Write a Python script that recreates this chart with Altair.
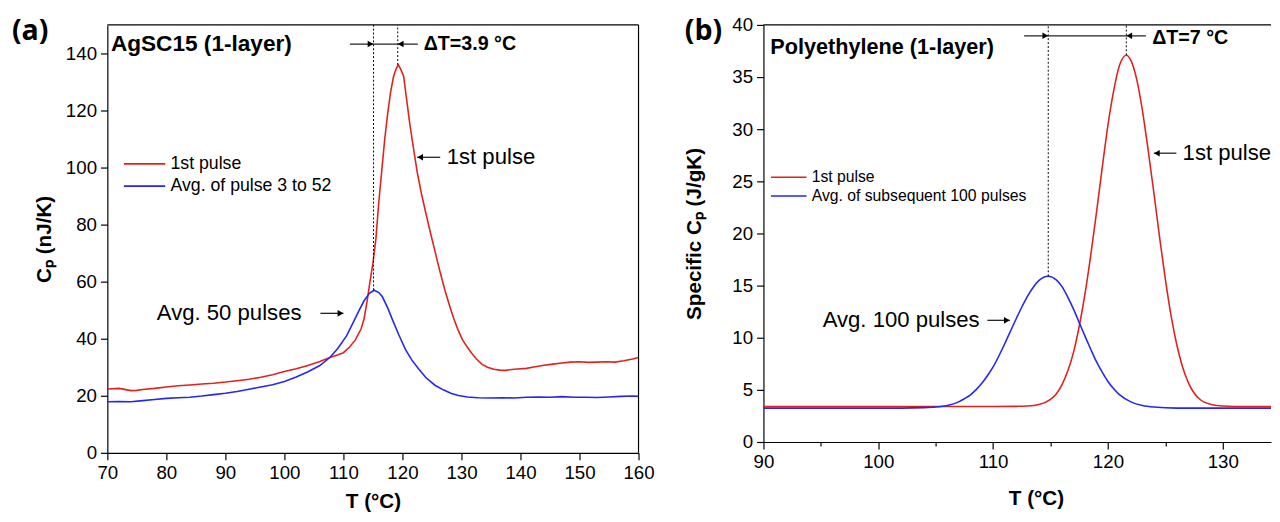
import altair as alt
import pandas as pd

# ---------------- data: panel (a) AgSC15 ----------------
a_red_T = [70, 72, 74, 75, 76, 78, 80, 82, 84, 86, 88, 90, 92, 94, 96, 98, 100, 102, 104, 106,
           107.7, 109, 110, 111, 112, 112.5, 113, 113.5, 114, 114.5, 115, 115.5, 116, 116.5, 117, 117.5,
           118, 118.5, 119, 119.3, 119.7, 120.2, 120.7, 121.2, 121.7, 122.5, 123.2, 123.9, 124.7, 125.5,
           126.3, 127.2, 128, 128.7, 129.4, 130.2, 131, 131.7, 132.5, 133.5, 134.4, 135.5, 136.5, 137.5,
           138.5, 139.5, 141, 142.5, 144, 145.5, 147, 148.5, 150, 151.5, 153, 154.5, 156, 157.5, 159, 160]
a_red_Cp = [22.4, 22.6, 21.8, 21.9, 22.2, 22.6, 23.1, 23.5, 23.8, 24.1, 24.4, 24.8, 25.3, 25.8, 26.5, 27.4,
            28.5, 29.5, 30.6, 32.0, 33.4, 34.3, 35.1, 37.0, 39.5, 41.5, 43.5, 47, 53, 60, 66.5, 75, 88, 99,
            110, 119, 126.5, 132, 135, 136, 134.5, 132, 124, 116, 109, 98.4, 91, 84.6, 77.5, 70.8, 64, 57,
            51.5, 47, 43.2, 39.5, 37, 35, 33, 31, 30, 29.3, 29, 28.9, 29.2, 29.4, 29.6, 30.2, 30.7, 31.1,
            31.5, 31.8, 31.9, 31.7, 31.8, 31.9, 31.8, 32.3, 32.9, 33.4]
a_blue_T = [70, 72, 74, 76, 78, 80, 82, 84, 86, 88, 90, 92, 94, 96, 98, 100, 102, 104, 106,
            107.7, 109, 110.5, 111.5, 112.7, 113.5, 114.4, 115.2, 116, 116.6, 117.5, 118.3, 119.4, 120.5,
            121.6, 122.75, 124, 125.5, 127, 128.3, 129.5, 131, 132.8, 135, 137, 139, 141, 143, 145, 147,
            149, 151, 153, 155, 157, 159, 160]
a_blue_Cp = [17.9, 18.0, 17.9, 18.3, 18.7, 19.1, 19.3, 19.5, 19.9, 20.4, 20.9, 21.5, 22.3, 23.1, 23.9, 25.0,
             26.6, 28.4, 30.6, 33.4, 36.5, 40.9, 45.0, 50.1, 53.3, 55.9, 57, 56.2, 54.7, 50.8, 46.7, 41.3,
             36.3, 32.5, 29.4, 26.3, 23.7, 22.0, 20.8, 20.1, 19.6, 19.3, 19.2, 19.3, 19.2, 19.5, 19.6, 19.5,
             19.7, 19.5, 19.5, 19.4, 19.6, 19.8, 19.9, 19.8]
a_series = ["1st pulse", "Avg. of pulse 3 to 52"]
a_peaks_T = [115.1, 119.2]
a_peaks_Cp = [57, 136]

# ---------------- data: panel (b) Polyethylene ----------------
b_red_T = [90, 100, 110, 112, 113, 114, 115, 115.5, 116, 116.5, 117, 117.5, 118, 118.5, 119, 119.5, 120,
           120.5, 121, 121.6, 122, 122.5, 123, 123.5, 124, 124.5, 125, 125.5, 126, 126.5, 127, 127.5, 128,
           129, 130, 132, 134.3]
b_red_Cp = [3.4, 3.4, 3.4, 3.42, 3.45, 3.6, 4.1, 4.6, 5.5, 6.8, 8.6, 11.1, 14.2, 17.9, 22.0, 26.3, 30.4,
            33.7, 36.1, 37.1, 36.6, 34.8, 31.8, 28.0, 23.9, 19.6, 15.6, 12.1, 9.3, 7.2, 5.7, 4.7, 4.1,
            3.6, 3.45, 3.4, 3.4]
b_blue_T = [90, 100, 104, 105, 106, 107, 107.5, 108, 108.5, 109, 109.5, 110, 110.5, 111, 111.5, 112, 112.5,
            113, 113.5, 114, 114.8, 115.5, 116, 116.5, 117, 117.5, 118, 118.5, 119, 119.5, 120, 120.5, 121,
            122, 123, 124, 126, 130, 134.3]
b_blue_Cp = [3.25, 3.25, 3.3, 3.35, 3.5, 3.85, 4.15, 4.5, 5.0, 5.6, 6.35, 7.2, 8.25, 9.4, 10.6, 11.8, 12.95,
             14.0, 14.85, 15.5, 15.9, 15.55, 14.9, 13.9, 12.75, 11.45, 10.15, 8.9, 7.7, 6.7, 5.8, 5.1, 4.55,
             3.85, 3.5, 3.35, 3.25, 3.25, 3.25]
b_series = ["1st pulse", "Avg. of subsequent 100 pulses"]
b_peaks_T = [114.8, 121.6]
b_peaks_Cp = [15.9, 37.1]

RED = "#E0221E"
BLUE = "#2626F2"
FONT = "Liberation Sans"
ONE = pd.DataFrame({"k": [0]})


def lines_df(T1, C1, T2, C2, names):
    return pd.DataFrame({"T": T1 + T2, "Cp": C1 + C2,
                         "series": [names[0]] * len(T1) + [names[1]] * len(T2),
                         "col": [RED] * len(T1) + [BLUE] * len(T2)})


def tick_axis(values, major, title, **kw):
    return alt.Axis(values=values,
                    labelExpr=f"datum.value % {major} === 0 ? datum.label : ''",
                    tickSize={"condition": {"test": f"datum.value % {major} === 0", "value": 7}, "value": 4},
                    labelOverlap=False, labelFlush=False, title=title, **kw)


def build_panel(df, names, xs, ys, xaxis, yaxis, interp, peaksT, peaksCp, ytop,
                dT_seg, extra_segs, heads_r, heads_l, texts, legend, label):
    X = alt.X("T:Q", scale=xs)
    Y = alt.Y("Cp:Q", scale=ys)
    lines = alt.Chart(df).mark_line(strokeWidth=1.6, clip=True, interpolate=interp).encode(
        x=alt.X("T:Q", scale=xs, axis=xaxis),
        y=alt.Y("Cp:Q", scale=ys, axis=yaxis),
        color=alt.Color("col:N", scale=None),
        detail="series:N",
    )
    dots = alt.Chart(pd.DataFrame({"T": peaksT, "Cp": peaksCp, "Ct": [ytop, ytop]})).mark_rule(
        color="black", strokeWidth=1, strokeDash=[2, 2]).encode(x=X, y=Y, y2="Ct:Q")
    segs = pd.DataFrame([dT_seg] + extra_segs, columns=["T", "T2", "Cp"])
    seg_layer = alt.Chart(segs).mark_rule(color="#222222", strokeWidth=1.3).encode(x=X, x2="T2:Q", y=Y)
    hr = alt.Chart(pd.DataFrame(heads_r, columns=["T", "Cp"])).mark_point(
        shape="triangle-right", filled=True, size=45, color="black", opacity=1, xOffset=-3).encode(x=X, y=Y)
    hl = alt.Chart(pd.DataFrame(heads_l, columns=["T", "Cp"])).mark_point(
        shape="triangle-left", filled=True, size=45, color="black", opacity=1, xOffset=3).encode(x=X, y=Y)
    layers = [lines, dots, seg_layer, hr, hl]
    for (t, T, C, size, weight, align) in texts:
        layers.append(alt.Chart(pd.DataFrame({"T": [T], "Cp": [C], "txt": [t]})).mark_text(
            font=FONT, fontSize=size, fontWeight=weight, align=align, baseline="middle", color="black"
        ).encode(x=X, y=Y, text="txt:N"))
    (lx1, lx2, ltx, lrows, lsize) = legend
    leg = pd.DataFrame({"T": [lx1, lx1], "T2": [lx2, lx2], "Cp": lrows, "series": names,
                        "Tt": [ltx, ltx], "col": [RED, BLUE]})
    layers.append(alt.Chart(leg).mark_rule(strokeWidth=1.6).encode(
        x=X, x2="T2:Q", y=Y, color=alt.Color("col:N", scale=None)))
    layers.append(alt.Chart(leg).mark_text(font=FONT, fontSize=lsize, align="left", baseline="middle",
                                           color="black").encode(x=alt.X("Tt:Q", scale=xs), y=Y,
                                                                 text="series:N"))
    (lt, lx, ly) = label
    layers.append(alt.Chart(ONE).mark_text(text=lt, font="Open Sans", fontWeight="bold", fontSize=29,
                                           align="left", baseline="middle", color="black").encode(
        x=alt.value(lx), y=alt.value(ly)))
    return layers


# ---------- panel (a) ----------
WA, HA = 540, 435
xsa = alt.Scale(domain=[70, 160], nice=False, zero=False)
ysa = alt.Scale(domain=[0, 150], nice=False)
xaxis_a = tick_axis(list(range(70, 161, 5)), 10, "T (°C)", titleX=WA / 2, titleY=50,
                    titleBaseline="middle", titleAlign="center")
yaxis_a = tick_axis(list(range(0, 141, 10)), 20, "Cₚ (nJ/K)", titleX=-64, titleY=HA / 2,
                    titleAngle=270, titleBaseline="middle", titleAlign="center")
layers_a = build_panel(
    lines_df(a_red_T, a_red_Cp, a_blue_T, a_blue_Cp, a_series), a_series, xsa, ysa,
    xaxis_a, yaxis_a, "linear", a_peaks_T, a_peaks_Cp, 150,
    (111.1, 122.6, 143.3),
    [(122.5, 126.4, 103.6), (106.1, 110.0, 48.9)],
    [(115.1, 143.3), (110.0, 48.9)],
    [(119.2, 143.3), (122.5, 103.6)],
    [("AgSC15 (1-layer)", 70.6, 143.3, 23, "bold", "left"),
     ("ΔT=3.9 °C", 123.6, 143.3, 20, "bold", "left"),
     ("1st pulse", 127.5, 103.6, 22.5, "normal", "left"),
     ("Avg. 50 pulses", 102.9, 48.9, 22.5, "normal", "right")],
    (72.8, 79.8, 80.7, [101.3, 93.5], 18),
    ("(a)", -97, 6),
)
frame_a = [
    alt.Chart(ONE).mark_rule(color="black", strokeWidth=1.2).encode(y=alt.value(0)),
    alt.Chart(ONE).mark_rule(color="black", strokeWidth=1.2).encode(x=alt.value(WA)),
]
panel_a = alt.layer(*layers_a, *frame_a).properties(width=WA, height=HA)

# ---------- panel (b) ----------
WB, HB = 516, 424
xsb = alt.Scale(domain=[90, 134.2], nice=False, zero=False)
ysb = alt.Scale(domain=[0, 40], nice=False)
xaxis_b = tick_axis(list(range(90, 134, 5)), 10, "T (°C)", titleX=277, titleY=58,
                    titleBaseline="middle", titleAlign="center")
yaxis_b = tick_axis([v / 2 for v in range(0, 81, 5)], 5, "Specific Cₚ (J/gK)", titleX=-70, titleY=HB / 2,
                    titleAngle=270, titleBaseline="middle", titleAlign="center")
layers_b = build_panel(
    lines_df(b_red_T, b_red_Cp, b_blue_T, b_blue_Cp, b_series), b_series, xsb, ysb,
    xaxis_b, yaxis_b, "monotone", b_peaks_T, b_peaks_Cp, 40,
    (112.7, 123.3, 38.96),
    [(124.0, 125.96, 27.7), (109.5, 111.45, 11.67)],
    [(114.8, 38.96), (111.45, 11.67)],
    [(121.6, 38.96), (124.0, 27.7)],
    [("Polyethylene (1-layer)", 90.6, 37.9, 22, "bold", "left"),
     ("ΔT=7 °C", 123.85, 38.7, 20, "bold", "left"),
     ("1st pulse", 126.5, 27.7, 22.5, "normal", "left"),
     ("Avg. 100 pulses", 108.83, 11.67, 22.5, "normal", "right")],
    (90.66, 93.75, 94.2, [25.4, 23.6], 16),
    ("(b)", -80, 6),
)
frame_b = [alt.Chart(ONE).mark_rule(color="black", strokeWidth=1.2).encode(y=alt.value(0))]
panel_b = alt.layer(*layers_b, *frame_b).properties(width=WB, height=HB)

chart = alt.hconcat(panel_a, panel_b, spacing=30).properties(
    padding={"left": 4, "top": 4, "right": 0, "bottom": 0},
    background="white",
).configure_view(stroke=None).configure_axis(
    grid=False, domainColor="black", domainWidth=1.2, tickColor="black", tickWidth=1.2,
    labelColor="black", labelFont=FONT, labelFontSize=19, labelPadding=4,
    titleFont=FONT, titleFontSize=21, titleFontWeight="bold", titleColor="black"
)

chart.save("out.html", embed_options={"renderer": "svg", "actions": False})
